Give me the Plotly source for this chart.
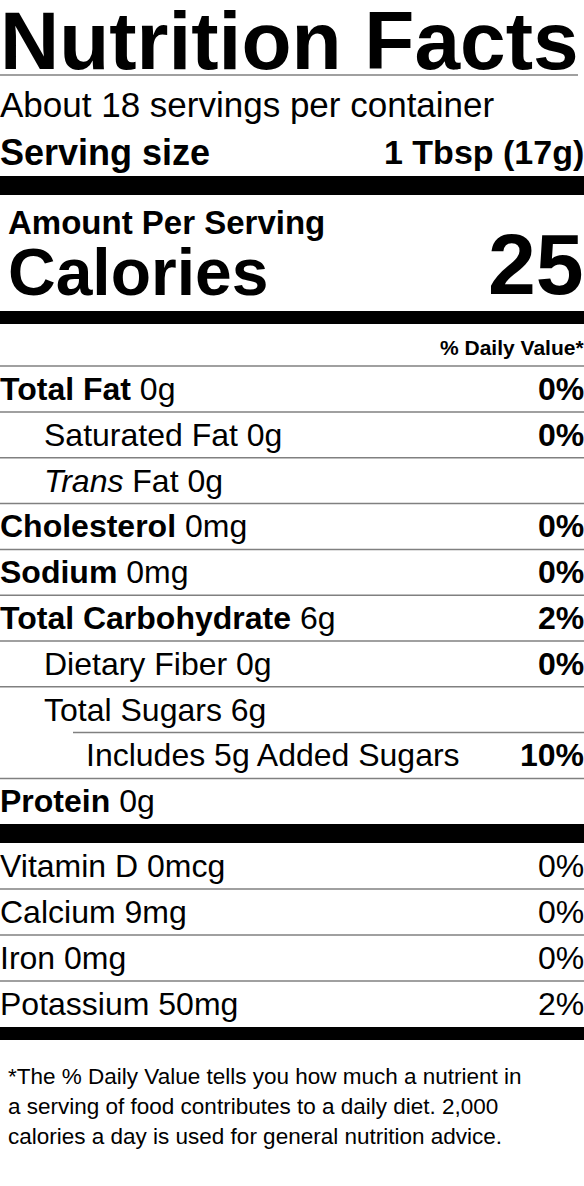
import plotly.graph_objects as go

title = "Nutrition Facts"
servings = "About 18 servings per container"
serving_label = "Serving size"
serving_value = "1 Tbsp (17g)"
calories = "25"
nutr_bold = ["Total Fat", "", "", "Cholesterol", "Sodium", "Total Carbohydrate", "", "", "", "Protein"]
nutr_reg = ["0g", "Saturated Fat 0g", "<i>Trans</i> Fat 0g", "0mg", "0mg", "6g", "Dietary Fiber 0g",
            "Total Sugars 6g", "Includes 5g Added Sugars", "0g"]
nutr_indent = [0, 1, 1, 0, 0, 0, 1, 1, 2, 0]
nutr_dv = ["0%", "0%", "", "0%", "0%", "2%", "0%", "", "10%", ""]
vit_names = ["Vitamin D 0mcg", "Calcium 9mg", "Iron 0mg", "Potassium 50mg"]
vit_dv = ["0%", "0%", "0%", "2%"]
footnote = ["*The % Daily Value tells you how much a nutrient in",
            "a serving of food contributes to a daily diet. 2,000",
            "calories a day is used for general nutrition advice."]

FONT = "Liberation Sans, Arial, sans-serif"
W, H = 584, 1186
fig = go.Figure()
ann = []
shapes = []

def text(x, y, t, size, anchor="left", bold=False):
    ann.append(dict(x=x, y=y, text=(f"<b>{t}</b>" if bold else t), showarrow=False,
                    xanchor=anchor, yanchor="middle", xshift=(-2 if anchor == "left" else 2),
                    font=dict(family=FONT, size=size, color="black")))

def hline(y, x0=0, x1=W, w=1.5, color="#808080"):
    shapes.append(dict(type="line", x0=x0, x1=x1, y0=y, y1=y, line=dict(color=color, width=w)))

def bar(y0, y1):
    shapes.append(dict(type="rect", x0=0, x1=W, y0=y0, y1=y1, fillcolor="black", line=dict(width=0)))

text(0, 40, title, 82, bold=True)
hline(75, 0, 578)
text(0, 104, servings, 35)
text(0, 152, serving_label, 36, bold=True)
text(584, 152, serving_value, 34, "right", bold=True)
bar(176, 195)
text(8, 222, "Amount Per Serving", 33, bold=True)
text(8, 272, "Calories", 66, bold=True)
text(584, 264, calories, 86, "right", bold=True)
bar(311, 324)
text(584, 347, "% Daily Value*", 21, "right", bold=True)
hline(366)

indent_x = [0, 44, 86]
y = 389
for i in range(len(nutr_bold)):
    b = f"<b>{nutr_bold[i]}</b> " if nutr_bold[i] else ""
    text(indent_x[nutr_indent[i]], y, b + nutr_reg[i], 32)
    if nutr_dv[i]:
        text(584, y, nutr_dv[i], 32, "right", bold=True)
    if i < len(nutr_bold) - 1:
        hline(y + 23, 73 if nutr_indent[i + 1] == 2 else 0)
    y += 45.8
bar(824, 843)
y = 866
for i in range(len(vit_names)):
    text(0, y, vit_names[i], 32)
    text(584, y, vit_dv[i], 32, "right")
    if i < len(vit_names) - 1:
        hline(y + 23)
    y += 46
bar(1027, 1040)
for i, line in enumerate(footnote):
    text(8, 1076 + 30 * i, line, 22.5)

fig.update_layout(width=W, height=H, margin=dict(l=0, r=0, t=0, b=0),
                  plot_bgcolor="white", paper_bgcolor="white",
                  xaxis=dict(range=[0, W], visible=False, fixedrange=True),
                  yaxis=dict(range=[H, 0], visible=False, fixedrange=True),
                  annotations=ann, shapes=shapes, showlegend=False)
fig.write_html("out.html", config={"displayModeBar": False},
               post_script="document.body.style.margin='0';document.body.style.overflow='hidden';")
